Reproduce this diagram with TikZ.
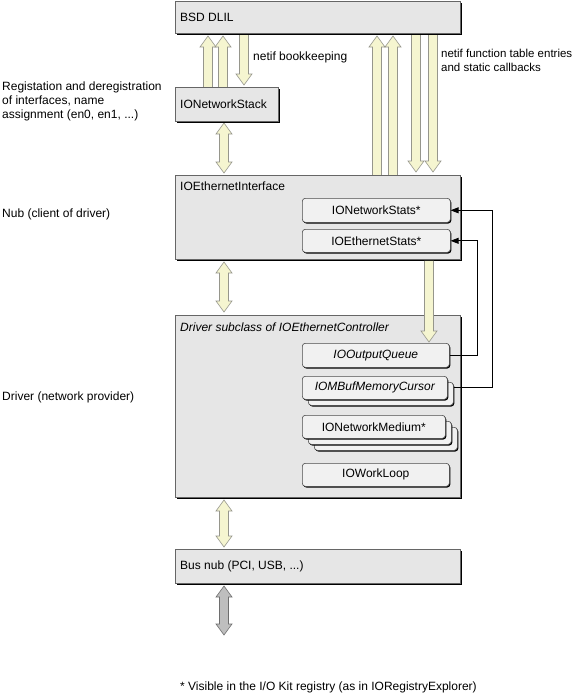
\documentclass[tikz,border=0pt]{standalone}
\usepackage{fontspec}
\setmainfont{Liberation Sans}
\usetikzlibrary{shadows,arrows.meta,calc}
\definecolor{boxfill}{RGB}{230,230,230}
\definecolor{innerfill}{RGB}{241,241,241}
\definecolor{arrfill}{RGB}{245,245,208}
\definecolor{arrline}{RGB}{150,150,140}
\definecolor{grayfill}{RGB}{190,190,190}
\definecolor{grayline}{RGB}{110,110,110}
\tikzset{
  bigbox/.style={draw=black!60, line width=0.7pt, fill=boxfill, rectangle, inner sep=0pt, anchor=north west,
    drop shadow={opacity=1, fill=black, shadow xshift=1.2pt, shadow yshift=-1.6pt}},
  innerbox/.style={draw=black!70, line width=0.6pt, fill=innerfill, rounded corners=3pt, inner sep=0pt, anchor=north west,
    minimum height=23pt, drop shadow={opacity=1, fill=black, shadow xshift=1pt, shadow yshift=-1.2pt},
    font=\fontsize{12}{14}\selectfont},
  lbl/.style={inner sep=0pt, font=\fontsize{12}{14}\selectfont, align=left},
  arrfillst/.style={fill=arrfill},
  arrdrawst/.style={draw=arrline, line width=0.6pt, line join=miter},
  blockarrow/.style={arrfillst, arrdrawst},
  grayarrow/.style={draw=grayline, fill=grayfill, line width=0.6pt, line join=miter},
  conn/.style={draw=black, line width=0.8pt, -{Triangle[length=8pt,width=6pt]}}
}
% single block arrow: x, base y, tip y (base edge left open)
\newcommand\sblk[3]{%
  \pgfmathsetmacro\hy{#3-11*sign(#3-#2)}%
  \fill[arrfillst] (#1-4.5,#2) -- (#1-4.5,\hy) -- (#1-8,\hy) -- (#1,#3) -- (#1+8,\hy) -- (#1+4.5,\hy) -- (#1+4.5,#2) -- cycle;
  \draw[arrdrawst] (#1-4.5,#2) -- (#1-4.5,\hy) -- (#1-8,\hy) -- (#1,#3) -- (#1+8,\hy) -- (#1+4.5,\hy) -- (#1+4.5,#2);}
% double block arrow: x, top tip y, bottom tip y
\newcommand\dblk[4][blockarrow]{%
  \pgfmathsetmacro\ha{#3+11}\pgfmathsetmacro\hb{#4-11}%
  \draw[#1] (#2,#3) -- (#2+8,\ha) -- (#2+4.5,\ha) -- (#2+4.5,\hb) -- (#2+8,\hb) -- (#2,#4)
    -- (#2-8,\hb) -- (#2-4.5,\hb) -- (#2-4.5,\ha) -- (#2-8,\ha) -- cycle;}
\begin{document}
\begin{tikzpicture}[x=1pt,y=-1pt]
\useasboundingbox (0,0) rectangle (580,697);
% block arrows between boxes
\sblk{208}{87}{36}
\sblk{223}{87}{36}
\sblk{244}{33}{85}
\dblk{224}{123}{173}
\sblk{377}{175}{36}
\sblk{393}{175}{36}
\sblk{416}{33}{172}
\sblk{433}{33}{172}
\dblk{224}{262}{312}
\dblk{224}{500}{547}
\dblk[grayarrow]{224}{586}{635}
% big boxes
\node[bigbox, minimum width=285pt, minimum height=32pt] (bsd) at (175,1) {};
\node[bigbox, minimum width=103pt, minimum height=34pt] (stack) at (175,87) {};
\node[bigbox, minimum width=285pt, minimum height=84pt] (eth) at (175,175) {};
\node[bigbox, minimum width=285pt, minimum height=182pt] (drv) at (175,315) {};
\node[bigbox, minimum width=285pt, minimum height=34pt] (bus) at (175,549) {};
% arrow from IOEthernetInterface down to IOOutputQueue
\sblk{429}{260.8}{342}
% box titles
\node[lbl, anchor=west] (bsdt) at (180,17) {BSD DLIL};
\node[lbl, anchor=west] (stackt) at (180,104) {IONetworkStack};
\node[lbl, anchor=west] (etht) at (180,186) {IOEthernetInterface};
\node[lbl, anchor=west] (drvt) at (180,327) {\itshape Driver subclass of IOEthernetController};
\node[lbl, anchor=west] (bust) at (180,566) {Bus nub (PCI, USB, ...)};
% inner boxes
\node[innerbox, minimum width=148pt, minimum height=24pt] (netstats) at (302,198) {IONetworkStats*};
\node[innerbox, minimum width=148pt] (ethstats) at (302,229) {IOEthernetStats*};
\node[innerbox, minimum width=147pt, minimum height=24pt] (outq) at (302,343) {\itshape IOOutputQueue};
\node[innerbox, minimum width=145pt] (mbufb) at (308,382) {};
\node[innerbox, minimum width=145pt] (mbuf) at (302,376) {\itshape IOMBufMemoryCursor};
\node[innerbox, minimum width=143pt] (medc) at (314,427) {};
\node[innerbox, minimum width=143pt] (medb) at (308,421) {};
\node[innerbox, minimum width=143pt] (med) at (302,415) {IONetworkMedium*};
\node[innerbox, minimum width=147pt] (wl) at (302,463) {IOWorkLoop};
% connectors
\draw[conn] (outq.east) -- ++(28,0) |- (ethstats.east);
\draw[conn] (mbuf.east -| mbufb.east) -- ++(39,0) |- (netstats.east);
% annotations
\node[lbl, anchor=west] (nb) at (253,57) {netif bookkeeping};
\node[lbl, anchor=north west, font=\fontsize{11.5}{14}\selectfont] (nf) at (441,49) {netif function table entries\\and static callbacks};
\node[lbl, anchor=north west] (reg) at (2,82) {Registation and deregistration\\of interfaces, name\\assignment (en0, en1, ...)};
\node[lbl, anchor=west] (nub) at (2,214) {Nub (client of driver)};
\node[lbl, anchor=west] (drvl) at (2,397) {Driver (network provider)};
\node[lbl, anchor=west] (foot) at (180,687) {* Visible in the I/O Kit registry (as in IORegistryExplorer)};
\end{tikzpicture}
\end{document}
